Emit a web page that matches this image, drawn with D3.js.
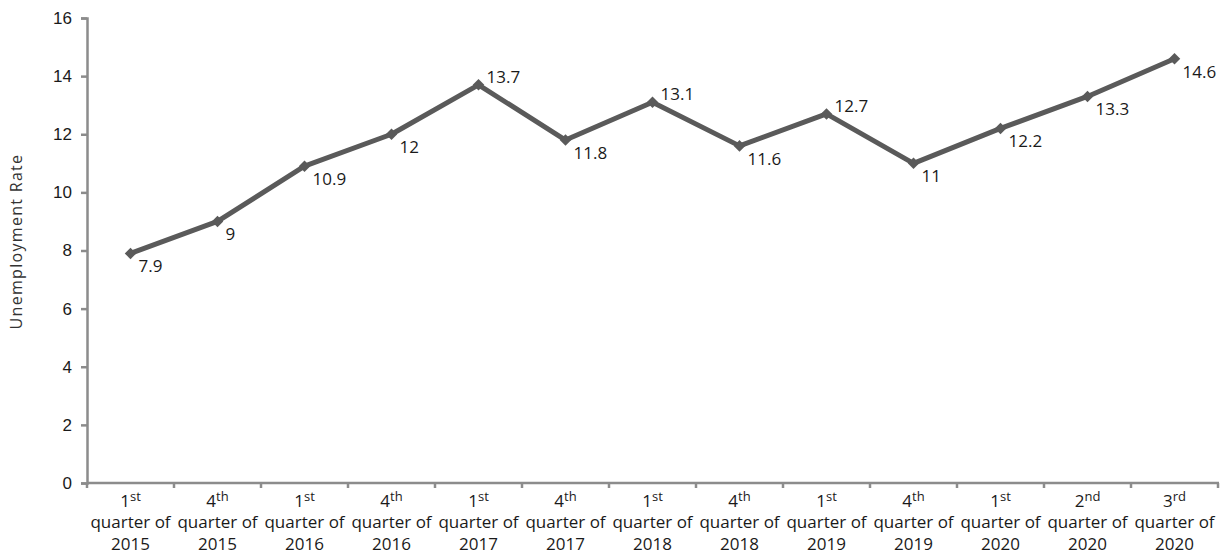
<!DOCTYPE html>
<html>
<head>
	<title></title>
	<script src="https://d3js.org/d3.v7.min.js"></script>
	<style>
		body { margin: 0; background: #fff; }
		svg { font-family: "Open Sans", "Noto Sans", sans-serif; }
		.axis path, .axis line { stroke: #8c8c8c; stroke-width: 2.5; }
		.axis text { fill: #1a1a1a; font-size: 17px; }
	</style>
</head>
<body>
	<svg width="1225" height="556"></svg>
<script type="text/javascript">

	// data
	var ordinals = ["1", "4", "1", "4", "1", "4", "1", "4", "1", "4", "1", "2", "3"];
	var suffixes = ["st", "th", "st", "th", "st", "th", "st", "th", "st", "th", "st", "nd", "rd"];
	var years = ["2015", "2015", "2016", "2016", "2017", "2017", "2018", "2018", "2019", "2019", "2020", "2020", "2020"];
	var rates = [7.9, 9, 10.9, 12, 13.7, 11.8, 13.1, 11.6, 12.7, 11, 12.2, 13.3, 14.6];
	var yTicks = [0, 2, 4, 6, 8, 10, 12, 14, 16];

	var svg = d3.select("svg"),
		margin = {top: 18, right: 7, bottom: 73, left: 87},
		width = +svg.attr("width") - margin.left - margin.right,
		height = +svg.attr("height") - margin.top - margin.bottom,
		g = svg.append("g").attr("transform", "translate(" + margin.left + "," + margin.top + ")");

	var cats = d3.range(rates.length);

	var x = d3.scaleBand()
		.domain(cats)
		.range([0, width]);

	var y = d3.scaleLinear()
		.domain([0, 16])
		.range([height, 0]);

	// y axis
	g.append("g")
		.attr("class", "axis")
		.call(d3.axisLeft(y).tickValues(yTicks).tickSize(6).tickSizeOuter(6).tickPadding(9));

	// x axis, ticks on the category boundaries
	var xAxis = g.append("g")
		.attr("class", "axis")
		.attr("transform", "translate(0," + height + ")");
	xAxis.append("line")
		.attr("x1", 0).attr("x2", width + 1);
	xAxis.selectAll(".tk")
		.data(d3.range(rates.length + 1))
		.enter().append("line")
		.attr("class", "tk")
		.attr("x1", function(d) { return d * x.bandwidth(); })
		.attr("x2", function(d) { return d * x.bandwidth(); })
		.attr("y1", 0)
		.attr("y2", 5);

	var lbl = xAxis.selectAll(".lbl")
		.data(cats)
		.enter().append("text")
		.attr("class", "lbl")
		.attr("text-anchor", "middle")
		.attr("transform", function(d) { return "translate(" + (x(d) + x.bandwidth() / 2) + ",0)"; });

	var l1 = lbl.append("tspan").attr("x", 0).attr("y", 24);
	l1.append("tspan").text(function(d) { return ordinals[d]; });
	l1.append("tspan")
		.attr("dy", -6)
		.attr("font-size", 13)
		.text(function(d) { return suffixes[d]; });
	lbl.append("tspan").attr("x", 0).attr("y", 45).text("quarter of");
	lbl.append("tspan").attr("x", 0).attr("y", 67).text(function(d) { return years[d]; });

	// y title
	svg.append("text")
		.attr("transform", "translate(22," + (margin.top + height / 2 - 9) + ") rotate(-90)")
		.attr("text-anchor", "middle")
		.attr("font-size", 16)
		.attr("letter-spacing", 1.3)
		.attr("fill", "#333")
		.text("Unemployment Rate");

	var cx = function(i) { return x(i) + x.bandwidth() / 2; };

	var line = d3.line()
		.x(function(d, i) { return cx(i); })
		.y(function(d) { return y(d); });

	g.append("path")
		.datum(rates)
		.attr("fill", "none")
		.attr("stroke", "#5a5a5a")
		.attr("stroke-width", 5)
		.attr("stroke-linejoin", "round")
		.attr("d", line);

	g.selectAll(".pt")
		.data(rates)
		.enter().append("path")
		.attr("class", "pt")
		.attr("fill", "#5a5a5a")
		.attr("d", d3.symbol().type(d3.symbolDiamond2).size(85))
		.attr("transform", function(d, i) { return "translate(" + cx(i) + "," + y(d) + ")"; });

	// peaks get the label above, others below
	function isPeak(i) {
		return i > 0 && i < rates.length - 1 && rates[i] > rates[i - 1] && rates[i] > rates[i + 1];
	}

	g.selectAll(".val")
		.data(rates)
		.enter().append("text")
		.attr("class", "val")
		.attr("font-size", 17)
		.attr("fill", "#1a1a1a")
		.attr("x", function(d, i) { return cx(i) + 8; })
		.attr("y", function(d, i) { return y(d) + (isPeak(i) ? -2 : 19); })
		.text(function(d) { return d; });

</script>
</body>
</html>
